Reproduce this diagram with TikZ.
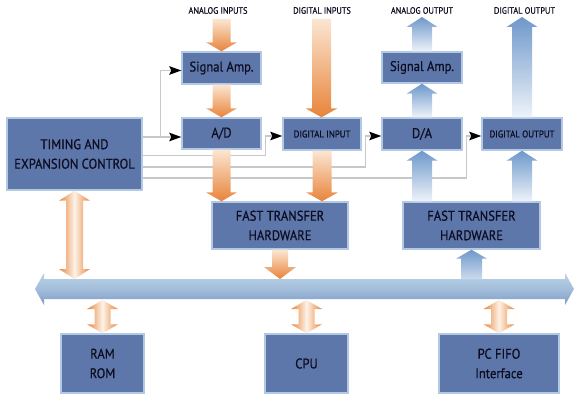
\documentclass[tikz,border=0pt]{standalone}
\usepackage{fontspec}
\setmainfont{PT Sans}[FakeStretch=0.9, FakeBold=0.7]
\usetikzlibrary{arrows.meta,calc}
\definecolor{boxfill}{HTML}{5D77AB}
\definecolor{boxline}{HTML}{B3C8E3}
\definecolor{txt}{HTML}{0E0E22}
\definecolor{orng}{HTML}{E8843A}
\definecolor{orngpale}{HTML}{FBE6D2}
\definecolor{blu}{HTML}{6E98CA}
\definecolor{blupale}{HTML}{EEF3FA}
\definecolor{ctrlgray}{HTML}{C8C8C8}
\definecolor{bustop}{HTML}{BBD2E7}
\definecolor{busmid}{HTML}{A3BEDB}
\definecolor{busbot}{HTML}{7D9AC6}
\newcommand{\fatdn}[6]{\shade[#6] let \p1=(#1),\p2=(#2) in (\x1-#3pt,\y1) -- (\x1-#3pt,\y2+#5pt) -- (\x1-#4pt,\y2+#5pt) -- (\x1,\y2) -- (\x1+#4pt,\y2+#5pt) -- (\x1+#3pt,\y2+#5pt) -- (\x1+#3pt,\y1) -- cycle;}
\newcommand{\fatup}[6]{\shade[#6] let \p1=(#1),\p2=(#2) in (\x1-#3pt,\y1) -- (\x1-#3pt,\y2-#5pt) -- (\x1-#4pt,\y2-#5pt) -- (\x1,\y2) -- (\x1+#4pt,\y2-#5pt) -- (\x1+#3pt,\y2-#5pt) -- (\x1+#3pt,\y1) -- cycle;}
\newcommand{\fatdbl}[6]{\shade[#6] let \p1=(#1),\p2=(#2) in (\x1,\y1) -- (\x1+#4pt,\y1-#5pt) -- (\x1+#3pt,\y1-#5pt) -- (\x1+#3pt,\y2+#5pt) -- (\x1+#4pt,\y2+#5pt) -- (\x1,\y2) -- (\x1-#4pt,\y2+#5pt) -- (\x1-#3pt,\y2+#5pt) -- (\x1-#3pt,\y1-#5pt) -- (\x1-#4pt,\y1-#5pt) -- cycle;}
\tikzset{
  box/.style={draw=boxline, line width=1.4pt, fill=boxfill, text=txt, align=center, inner sep=0pt, font=\fontsize{14}{19.5}\selectfont},
  sz/.style 2 args={minimum width=#1pt, minimum height=#2pt},
  smallbox/.style={font=\fontsize{9.8}{11}\selectfont},
  toplabel/.style={text=txt, inner sep=0pt, font=\fontsize{9.2}{10}\selectfont},
  ctrl/.style={draw=ctrlgray, line width=1.4pt},
  ctrlarrow/.style={ctrl, -{Stealth[color=black, length=12pt, width=8.5pt, inset=2pt]}},
  orngdown/.style={top color=orngpale, bottom color=orng},
  bluup/.style={top color=blu, bottom color=blupale},
  dblshade/.style={left color=orng, right color=orng, middle color=orngpale!50!white}
}
\begin{document}
\begin{tikzpicture}[x=1pt, y=-1pt]
\useasboundingbox (0,0) rectangle (580,403);
% boxes
\node[box, sz={135}{72}] (timing) at (74.5,154) {TIMING AND\\EXPANSION CONTROL};
\node[box, sz={79}{32}] (sa1) at (221.5,68) {Signal Amp.};
\node[box, sz={79}{31}] (ad) at (221.5,133.5) {A/D};
\node[box, smallbox, sz={78}{32}] (di) at (322,134) {DIGITAL INPUT};
\node[box, sz={80}{32}] (da) at (422,134) {D/A};
\node[box, smallbox, sz={80}{32}] (do) at (522,134) {DIGITAL OUTPUT};
\node[box, sz={80}{31}] (sa2) at (422,67.5) {Signal Amp.};
\node[box, sz={136}{47}] (ft1) at (280,225.5) {FAST TRANSFER\\HARDWARE};
\node[box, sz={137}{47}] (ft2) at (471.5,225.5) {FAST TRANSFER\\HARDWARE};
\node[box, sz={83}{59}] (ram) at (102.5,363.5) {RAM\\ROM};
\node[box, sz={83}{59}] (cpu) at (306.5,363.5) {CPU};
\node[box, sz={120}{59}] (fifo) at (499,363.5) {PC FIFO\\Interface};
% top labels
\node[toplabel] (lai) at (218,10.5) {ANALOG INPUTS};
\node[toplabel] (ldi) at (322,10.5) {DIGITAL INPUTS};
\node[toplabel] (lao) at (422,10.5) {ANALOG OUTPUT};
\node[toplabel] (ldo) at (524.5,10.5) {DIGITAL OUTPUT};
\coordinate (ai) at (221.5,19);
\coordinate (din) at (321.5,19);
\coordinate (ao) at (422,17);
\coordinate (dout) at (522,17);
\coordinate (bt) at (0,279);
\coordinate (bb) at (0,300);
\coordinate (busL) at (35,289);
\coordinate (busR) at (574,289);
% control lines
\coordinate (t1) at ([yshift=17pt]timing.east);
\coordinate (t2) at ([yshift=-1.5pt]timing.east);
\coordinate (t3) at ([yshift=-13pt]timing.east);
\coordinate (t4) at ([yshift=-24pt]timing.east);
\coordinate (j1) at ([xshift=18pt]t1);
\draw[ctrlarrow] (t1) -- (t1 -| ad.west);
\draw[ctrlarrow] (j1) |- ([yshift=-2.5pt]sa1.west);
\draw[ctrlarrow] (t2) -| ([xshift=-17pt,yshift=-2pt]di.west) -- ([yshift=-2pt]di.west);
\draw[ctrlarrow] (t3) -| ([xshift=-16pt,yshift=-2pt]da.west) -- ([yshift=-2pt]da.west);
\draw[ctrlarrow] (t4) -| ([xshift=-15pt,yshift=-2pt]do.west) -- ([yshift=-2pt]do.west);
% bus
\shade[top color=bustop, bottom color=busbot, middle color=busmid]
  let \p1=(busL), \p2=(busR) in
  (\x1,\y1) -- (\x1+9pt,\y1+16pt) -- (\x1+9pt,\y1+10pt) -- (\x2-9pt,\y1+10pt) -- (\x2-9pt,\y1+16pt) -- (\x2,\y2)
  -- (\x2-9pt,\y2-16pt) -- (\x2-9pt,\y2-10pt) -- (\x1+9pt,\y2-10pt) -- (\x1+9pt,\y1-16pt) -- cycle;
% orange arrows
\fatdn{ai}{sa1.north}{9}{15.5}{9}{orngdown}
\fatdn{sa1.south}{ad.north}{9}{15.5}{9}{orngdown}
\fatdn{ad.south}{ad.south |- ft1.north}{9}{15.5}{9}{orngdown}
\fatdn{din}{di.north}{9.5}{16}{9}{orngdown}
\fatdn{di.south}{di.south |- ft1.north}{9.5}{16}{9}{orngdown}
\fatdn{ft1.south}{ft1.south |- bt}{8}{16}{12}{orngdown}
\fatdbl{timing.south}{timing.south |- bt}{8.5}{15.5}{10}{dblshade}
\fatdbl{ram.north |- bb}{ram.north}{8}{15.5}{9}{dblshade}
\fatdbl{cpu.north |- bb}{cpu.north}{8}{15.5}{9}{dblshade}
\fatdbl{fifo.north |- bb}{fifo.north}{8}{15.5}{9}{dblshade}
% blue arrows
\fatup{sa2.north}{ao}{10}{15.5}{10}{bluup}
\fatup{da.north}{sa2.south}{10}{15.5}{10}{bluup}
\fatup{do.north}{dout}{10}{15.5}{10}{bluup}
\fatup{ft2.north -| da.south}{da.south}{10}{15.5}{10}{bluup}
\fatup{ft2.north -| do.south}{do.south}{10}{15.5}{10}{bluup}
\fatup{ft2.south |- bt}{ft2.south}{10.5}{15.5}{9}{top color=blu, bottom color=blu!35!white}
\end{tikzpicture}
\end{document}
